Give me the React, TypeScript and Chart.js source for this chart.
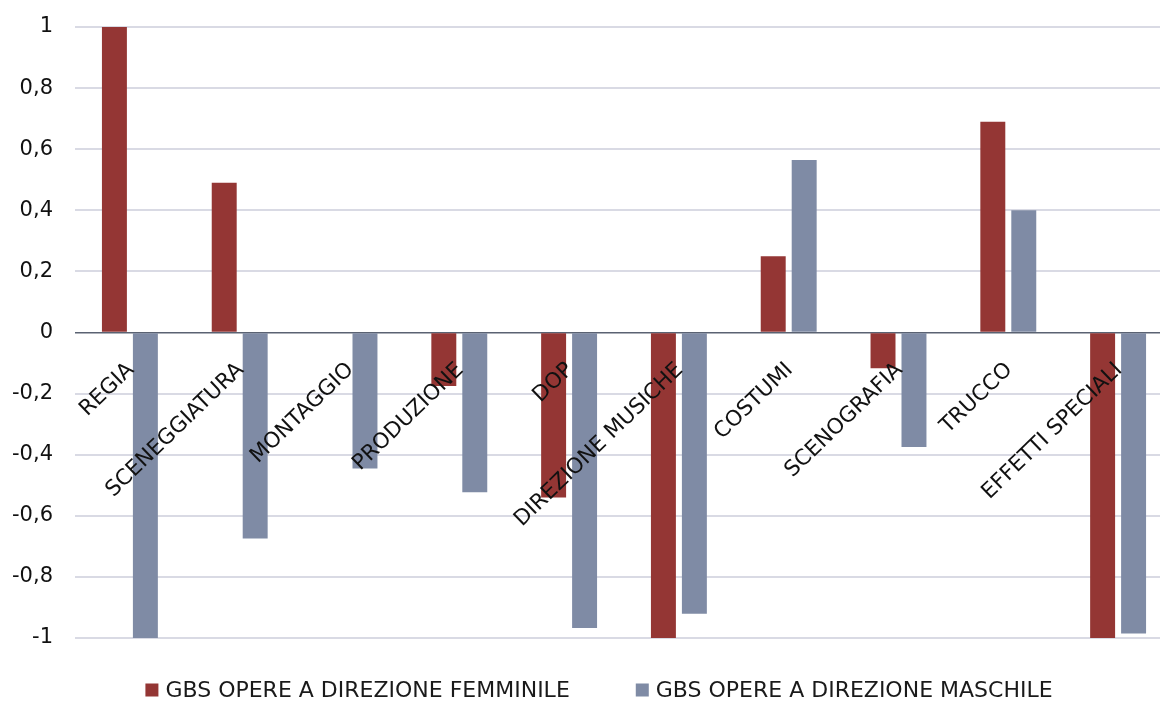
import React, { useEffect, useRef } from "react";
import { Chart, registerables } from "chart.js";

Chart.register(...registerables);

const categories = [
  "REGIA",
  "SCENEGGIATURA",
  "MONTAGGIO",
  "PRODUZIONE",
  "DOP",
  "DIREZIONE MUSICHE",
  "COSTUMI",
  "SCENOGRAFIA",
  "TRUCCO",
  "EFFETTI SPECIALI",
];
const femaleValues = [1, 0.49, 0, -0.175, -0.54, -1, 0.25, -0.117, 0.69, -1];
const maleValues = [-1, -0.674, -0.445, -0.523, -0.967, -0.921, 0.565, -0.375, 0.4, -0.985];
const seriesLabels = ["GBS OPERE A DIREZIONE FEMMINILE", "GBS OPERE A DIREZIONE MASCHILE"];
const seriesColors = ["#943634", "#7F8BA5"];
const yMin = -1;
const yMax = 1;
const yStep = 0.2;

const FONT = '"DejaVu Sans", sans-serif';

const legendPlugin = {
  id: "customLegend",
  afterDraw(chart: any) {
    const ctx = chart.ctx;
    ctx.save();
    ctx.font = `22px ${FONT}`;
    ctx.textBaseline = "middle";
    ctx.textAlign = "left";
    const box = 13;
    const gap = 7;
    const itemGap = 66;
    const widths = seriesLabels.map((t) => ctx.measureText(t).width);
    const total = widths.reduce((a, w) => a + box + gap + w, 0) + itemGap;
    let x = 599 - total / 2;
    const y = 690;
    seriesLabels.forEach((t, i) => {
      ctx.fillStyle = seriesColors[i];
      ctx.fillRect(x, y - box / 2, box, box);
      x += box + gap;
      ctx.fillStyle = "#1a1a1a";
      ctx.fillText(t, x, y + 1);
      x += widths[i] + itemGap;
    });
    ctx.restore();
  },
};

function fmt(v: number): string {
  const r = Math.round(v * 10) / 10;
  if (Math.abs(r) < 1e-9) return "0";
  return String(r).replace(".", ",");
}

export default function App() {
  const ref = useRef<HTMLCanvasElement | null>(null);

  useEffect(() => {
    if (!ref.current) return;
    const chart = new Chart(ref.current, {
      type: "bar",
      data: {
        labels: categories,
        datasets: [
          {
            label: seriesLabels[0],
            data: femaleValues,
            backgroundColor: seriesColors[0],
            categoryPercentage: 0.564,
            barPercentage: 0.806,
          },
          {
            label: seriesLabels[1],
            data: maleValues,
            backgroundColor: seriesColors[1],
            categoryPercentage: 0.564,
            barPercentage: 0.806,
          },
        ],
      },
      options: {
        responsive: false,
        animation: false,
        devicePixelRatio: 1,
        layout: { padding: { left: 0, right: 7, top: 27, bottom: 64 } },
        plugins: {
          legend: { display: false },
          tooltip: { enabled: false },
        },
        scales: {
          x: {
            position: { y: 0 } as any,
            offset: true,
            grid: { display: false },
            border: { display: false },
            ticks: {
              z: 1,
              autoSkip: false,
              maxRotation: 44,
              minRotation: 44,
              color: "#111",
              padding: 17,
              labelOffset: 1,
              font: { family: FONT, size: 21.5 },
            } as any,
            afterFit: (s: any) => {
              s.paddingLeft = 0;
              s.paddingRight = 0;
            },
          },
          y: {
            min: yMin,
            max: yMax,
            border: { display: false },
            grid: {
              drawTicks: false,
              color: (c: any) => (c.tick && Math.abs(c.tick.value) < 1e-9 ? "#5A6272" : "#D9DAE4"),
              lineWidth: (c: any) => (c.tick && Math.abs(c.tick.value) < 1e-9 ? 1.5 : 2),
            },
            ticks: {
              stepSize: yStep,
              padding: 22,
              color: "#111",
              font: { family: FONT, size: 21 },
              callback: (v: any) => fmt(Number(v)),
            },
            afterFit: (s: any) => {
              s.width = 75;
              s.paddingTop = 0;
              s.paddingBottom = 0;
            },
          },
        },
      },
      plugins: [legendPlugin],
    });
    return () => chart.destroy();
  }, []);

  return (
    <div
      style={{
        position: "fixed",
        left: 0,
        top: 0,
        width: 1160,
        height: 702,
        overflow: "hidden",
        background: "#fff",
      }}
    >
      <canvas ref={ref} width={1180} height={702} style={{ width: 1180, height: 702, display: "block" }} />
    </div>
  );
}
